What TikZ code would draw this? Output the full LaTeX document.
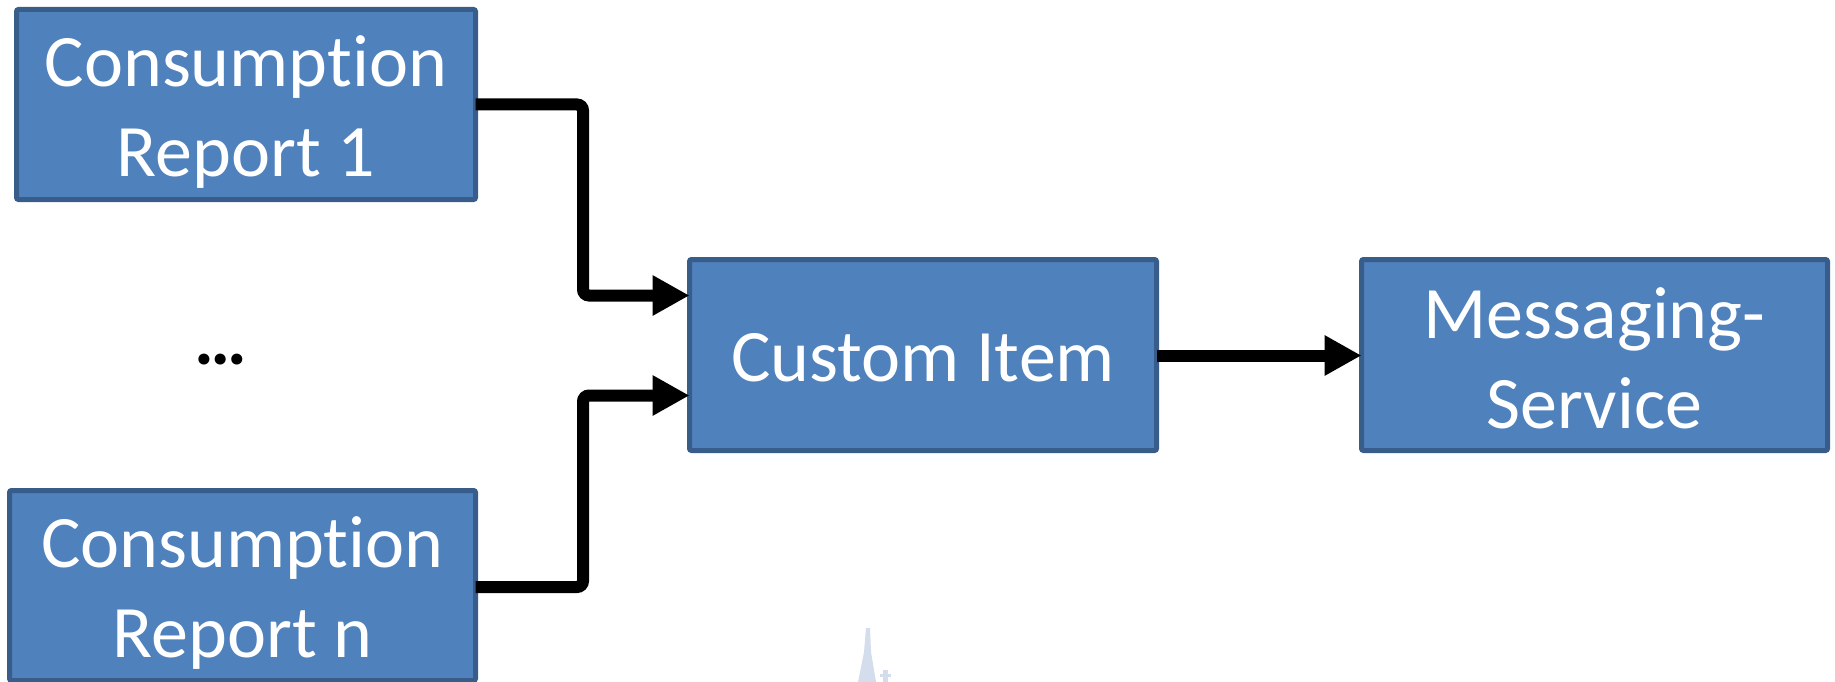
\documentclass[tikz,border=0pt]{standalone}
\usepackage{fontspec}
\setmainfont{Carlito}[Ligatures=CommonOff]
\usetikzlibrary{arrows.meta}
\definecolor{boxfill}{HTML}{4F81BD}
\definecolor{boxline}{HTML}{385D8A}
\definecolor{faint}{HTML}{D3DDEB}
\tikzset{
  box/.style={draw=boxline, fill=boxfill, line width=5pt, rounded corners=2pt, inner sep=0pt, outer sep=0pt},
  txt/.style={text=white, align=center, font=\fontsize{74pt}{90pt}\selectfont, inner sep=0pt},
  conn/.style={line width=12pt, rounded corners=6pt, -{Triangle[length=37pt,width=38pt]}}
}
\begin{document}
\begin{tikzpicture}[x=1pt,y=-1pt]
\useasboundingbox (0,0) rectangle (1835,682);
% boxes
\node[box, minimum width=459pt, minimum height=190pt] (cr1) at (246,104.5) {};
\node[box, minimum width=466pt, minimum height=190pt] (crn) at (242.5,585.5) {};
\node[box, minimum width=467pt, minimum height=191pt] (ci) at (923,355) {};
\node[box, minimum width=466pt, minimum height=191pt] (ms) at (1594.5,355) {};
% texts
\node[txt] (cr1t) at ([yshift=-7.5pt]cr1.center) {Consumption\\Report 1};
\node[txt] (crnt) at ([yshift=-7.5pt]crn.center) {Consumption\\Report n};
\node[txt] (cit) at ([yshift=-3pt]ci.center) {Custom Item};
\node[txt] (mst) at ([yshift=-3pt]ms.center) {Messaging-\\Service};
\node[font=\fontsize{74pt}{87pt}\selectfont\bfseries, anchor=base, inner sep=0pt] (dots) at (221,364) {…};
% bend helpers
\coordinate (in1) at (0,295.5);
\coordinate (in2) at (0,395.5);
\coordinate (bx) at (583,0);
% connectors
\draw[conn] (cr1.east) -| (bx |- in1) -- (ci.west |- in1);
\draw[conn] (crn.east |- 0,587) -| (bx |- in2) -- (ci.west |- in2);
\draw[conn] (ci.east |- 0,355.5) -- (ms.west |- 0,355.5);
% faint artefact
\fill[faint] (866,628) -- (870,628) -- (871,652) -- (876,682) -- (858,682) -- (864,652) -- cycle;
\fill[faint] (883,670) rectangle (888,682);
\fill[faint] (880,674) rectangle (891,677);
\end{tikzpicture}
\end{document}
